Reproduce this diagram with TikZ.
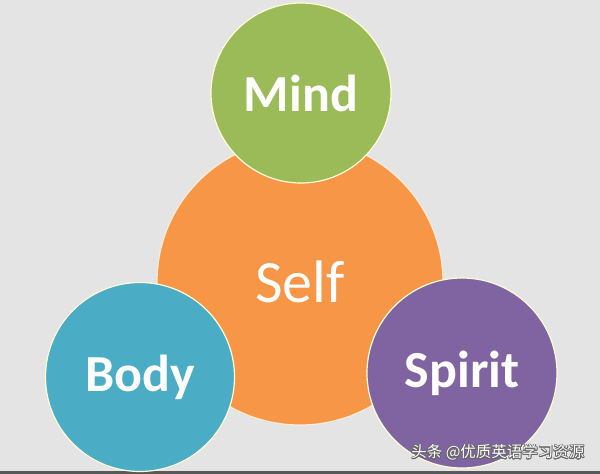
\documentclass[tikz,border=0pt]{standalone}
\usepackage{fontspec}
\setmainfont{Carlito}
\newfontfamily\cjk{Noto Sans CJK SC}
\usepackage{contour}
\contourlength{0.7pt}
\definecolor{mindgreen}{HTML}{9BBB59}
\definecolor{selforange}{HTML}{F79646}
\definecolor{bodyblue}{HTML}{4BACC6}
\definecolor{spiritpurple}{HTML}{8064A2}
\definecolor{backgray}{HTML}{E4E4E4}

\begin{document}
\begin{tikzpicture}[x=1pt, y=-1pt,
    part/.style ={circle, draw=white!85!yellow, line width=1.2pt, inner sep = 0pt,
      text=white, font=\fontsize{52}{52}\selectfont\bfseries},
    core/.style ={part, draw=white!85!orange, font=\fontsize{60}{60}\selectfont}]
   \fill[backgray] (0,0) rectangle (600,474);
   \fill[black!65] (0,471) rectangle (600,474);
   \useasboundingbox (0,0) rectangle (600,474);

   \node[core, fill=selforange, minimum size=286pt] (S) at (300,282) {Self};
   \node[part, fill=mindgreen, minimum size=180pt] (M) at (301,93) {Mind};
   \node[part, fill=bodyblue, minimum size=189pt] (B) at (140,377) {Body};
   \node[part, fill=spiritpurple, minimum size=190pt] (P) at (462,373) {Spirit};

   \node[text=white, font=\cjk\fontsize{15.5}{15.5}\selectfont, anchor=east] (W) at (588,453)
     {\contour{black!60}{头条 @优质英语学习资源}};
 \end{tikzpicture}
\end{document}
